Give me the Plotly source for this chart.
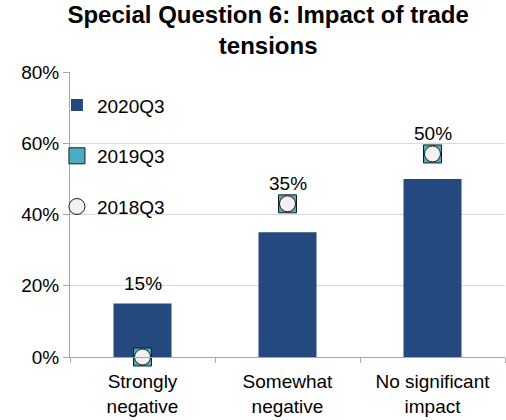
import plotly.graph_objects as go

categories = ["Strongly<br>negative", "Somewhat<br>negative", "No significant<br>impact"]
q2020 = [15, 35, 50]
q2019 = [0, 43, 57]
q2018 = [0, 43, 57]
y_ticks = [0, 20, 40, 60, 80]
y_tick_labels = ["0%", "20%", "40%", "60%", "80%"]

FONT = "Liberation Sans, Arial, sans-serif"

fig = go.Figure()
fig.add_trace(go.Bar(x=categories, y=q2020, name="2020Q3", width=0.4,
                     marker=dict(color="#23497E", line=dict(width=0)),
                     legendgroup="a"))
fig.add_trace(go.Scatter(x=categories, y=q2019, name="2019Q3", mode="markers",
                         marker=dict(symbol="square", size=18, color="#4BACC6",
                                     line=dict(color="#1a1a1a", width=1)),
                         legendgroup="b", cliponaxis=False))
fig.add_trace(go.Scatter(x=categories, y=q2018, name="2018Q3", mode="markers",
                         marker=dict(symbol="circle", size=16, color="#F2F2F2",
                                     line=dict(color="#1a1a1a", width=1)),
                         legendgroup="c", cliponaxis=False))

for c, v, a, b in zip(categories, q2020, q2019, q2018):
    top = max(v, a, b)
    fig.add_annotation(x=c, y=top, text=f"{v}%", showarrow=False,
                       yshift=20, font=dict(size=19, color="#000000", family=FONT))

fig.update_layout(
    width=506, height=420,
    margin=dict(l=70, r=1, t=72, b=63),
    paper_bgcolor="white", plot_bgcolor="white",
    font=dict(family=FONT, size=19, color="#000000"),
    title=dict(text="<b>Special Question 6: Impact of trade<br>tensions</b>",
               x=0.53, xanchor="center", y=0.945, yanchor="top",
               font=dict(size=24, family=FONT, color="#000000")),
    bargap=0.6,
    showlegend=True,
    legend=dict(x=-0.03, y=0.95, xanchor="left", yanchor="top",
                bgcolor="rgba(0,0,0,0)", tracegroupgap=23,
                font=dict(size=19, family=FONT, color="#000000"),
                itemwidth=30),
    xaxis=dict(type="category", showline=True, linecolor="#A6A6A6", linewidth=1,
               ticks="outside", tickson="boundaries", ticklen=5, tickcolor="#A6A6A6",
               showgrid=False, automargin=False, ticklabelstandoff=7,
               tickfont=dict(size=19, family=FONT, color="#000000")),
    yaxis=dict(range=[0, 80], tickvals=y_ticks, ticktext=y_tick_labels,
               showline=True, linecolor="#A6A6A6", linewidth=1,
               ticks="outside", ticklen=6, tickcolor="#A6A6A6",
               showgrid=True, gridcolor="#D9D9D9", gridwidth=1, zeroline=False,
               automargin=False,
               tickfont=dict(size=19, family=FONT, color="#000000")),
)

fig.write_html("out.html", config={"displayModeBar": False},
               post_script="document.body.style.margin='0';")
